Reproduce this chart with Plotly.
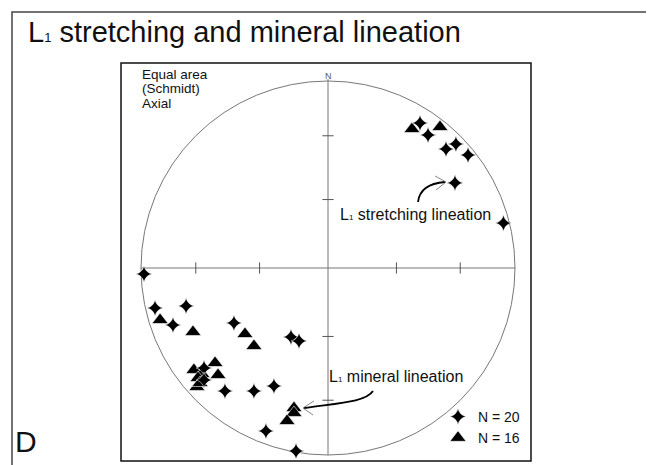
import numpy as np
import plotly.graph_objects as go

# ---------------- data (equal-area projected coordinates, unit primitive circle; east, north) -------------
STRETCH_E = [0.492, 0.535, 0.684, 0.631, 0.749, 0.679, 0.938,
             -0.984, -0.925, -0.759, -0.829, -0.503, -0.198, -0.155,
             -0.663, -0.663, -0.551, -0.396, -0.289, -0.332, -0.171]
STRETCH_N = [0.775, 0.711, 0.663, 0.636, 0.604, 0.455, 0.240,
             -0.032, -0.214, -0.203, -0.305, -0.294, -0.369, -0.390,
             -0.535, -0.599, -0.658, -0.658, -0.631, -0.872, -0.979]

MINERAL_E = [0.449, 0.599,
             -0.898, -0.722, -0.444, -0.396, -0.604, -0.717, -0.588,
             -0.674, -0.695, -0.701, -0.684, -0.182, -0.182, -0.219]
MINERAL_N = [0.743, 0.754,
             -0.278, -0.342, -0.353, -0.417, -0.508, -0.545, -0.572,
             -0.567, -0.588, -0.636, -0.615, -0.749, -0.775, -0.818]

TICK_PLUNGES = [30, 60]
LEGEND_LABELS = ["N = 20", "N = 16"]
TITLE = "L" + '<span style="font-size:13px">1</span>' + " stretching and mineral lineation"
NET_LABEL = ["Equal area", "(Schmidt)", "Axial"]
LABEL_STRETCH = "L" + '<span style="font-size:8px">1</span>' + " stretching lineation"
LABEL_MINERAL = "L" + '<span style="font-size:8px">1</span>' + " mineral lineation"
PANEL = "D"

# ---------------- layout geometry ----------------
W, H = 654, 465
CX, CY, R = 320, 260, 187          # net centre / radius in px
FONT = "Liberation Sans, Arial, Helvetica, sans-serif"


def px(x):  # pixel x -> data
    return (x - CX) / R


def py(y):  # pixel y -> data
    return (CY - y) / R


fig = go.Figure()

# mineral lineation (triangles) drawn first, stars on top
fig.add_trace(go.Scatter(
    x=MINERAL_E, y=MINERAL_N, mode="markers", name=LEGEND_LABELS[1], legendrank=2,
    marker=dict(symbol="triangle-up", size=14, color="black", line=dict(color="white", width=0.6)),
    hoverinfo="skip"))
fig.add_trace(go.Scatter(
    x=STRETCH_E, y=STRETCH_N, mode="markers", name=LEGEND_LABELS[0], legendrank=1,
    marker=dict(symbol="star-diamond", size=11.5, color="black", line=dict(color="white", width=0.5)),
    hoverinfo="skip"))

shapes = []


def pbox(x0, y0, x1, y1, color, width):
    return dict(type="rect", xref="paper", yref="paper",
                x0=x0 / W, x1=x1 / W, y0=1 - y1 / H, y1=1 - y0 / H,
                line=dict(color=color, width=width), fillcolor="rgba(0,0,0,0)", layer="below")


shapes.append(pbox(4, 4, 650, 462, "#444", 1.5))
shapes.append(pbox(113, 55, 523, 453, "#111", 1.5))

# primitive circle and axes
shapes.append(dict(type="circle", xref="x", yref="y", x0=-1, y0=-1, x1=1, y1=1,
                   line=dict(color="#777", width=1), layer="below"))
shapes.append(dict(type="line", xref="x", yref="y", x0=-1, y0=0, x1=1, y1=0,
                   line=dict(color="#777", width=1), layer="below"))
shapes.append(dict(type="line", xref="x", yref="y", x0=0, y0=-1, x1=0, y1=1.01,
                   line=dict(color="#777", width=1), layer="below"))
tl = 0.03
for p in TICK_PLUNGES:
    r = np.sqrt(2) * np.sin(np.radians((90 - p) / 2))
    for s in (-1, 1):
        shapes.append(dict(type="line", xref="x", yref="y", x0=s * r, x1=s * r, y0=-tl, y1=tl,
                           line=dict(color="#555", width=1), layer="below"))
        shapes.append(dict(type="line", xref="x", yref="y", y0=s * r, y1=s * r, x0=-tl, x1=tl,
                           line=dict(color="#555", width=1), layer="below"))

# curved pointer arrows
shapes.append(dict(type="path", xref="x", yref="y",
                   path=f"M{px(410):.4f},{py(194):.4f} Q{px(412):.4f},{py(176):.4f} {px(437):.4f},{py(174):.4f}",
                   line=dict(color="black", width=1.8)))
shapes.append(dict(type="path", xref="x", yref="y",
                   path=f"M{px(427):.4f},{py(168):.4f} L{px(438):.4f},{py(174):.4f} L{px(428):.4f},{py(182):.4f}",
                   line=dict(color="#666", width=0.8)))
shapes.append(dict(type="path", xref="x", yref="y",
                   path=f"M{px(365):.4f},{py(383):.4f} C{px(358):.4f},{py(394):.4f} {px(330):.4f},{py(395):.4f} {px(296):.4f},{py(400):.4f}",
                   line=dict(color="black", width=1.8)))
shapes.append(dict(type="path", xref="x", yref="y",
                   path=f"M{px(306):.4f},{py(393):.4f} L{px(295):.4f},{py(400):.4f} L{px(305):.4f},{py(407):.4f}",
                   line=dict(color="#666", width=0.8)))

ann = []


def text(x, y, t, size, color="#111", xanchor="left"):
    ann.append(dict(xref="paper", yref="paper", x=x / W, y=1 - y / H, text=t, showarrow=False,
                    xanchor=xanchor, yanchor="middle", font=dict(family=FONT, size=size, color=color)))


text(18, 24, TITLE, 29)
for i, t in enumerate(NET_LABEL):
    text(132, 66 + i * 14.5, t, 13.5)
text(320, 68, "N", 9, "#555", "center")
text(330, 206, LABEL_STRETCH, 16)
text(319, 368, LABEL_MINERAL, 16)
text(5, 433, PANEL, 30)

fig.update_layout(
    width=W, height=H, autosize=False,
    margin=dict(l=0, r=0, t=0, b=0),
    paper_bgcolor="white", plot_bgcolor="white",
    xaxis=dict(range=[px(0), px(W)], visible=False, fixedrange=True),
    yaxis=dict(range=[py(H), py(0)], visible=False, fixedrange=True),
    shapes=shapes, annotations=ann,
    showlegend=True,
    legend=dict(x=430 / W, y=1 - 393 / H, xanchor="left", yanchor="top",
                bgcolor="rgba(0,0,0,0)", font=dict(family=FONT, size=14, color="#111"),
                tracegroupgap=0, itemwidth=30),
)

fig.write_html("out.html")
